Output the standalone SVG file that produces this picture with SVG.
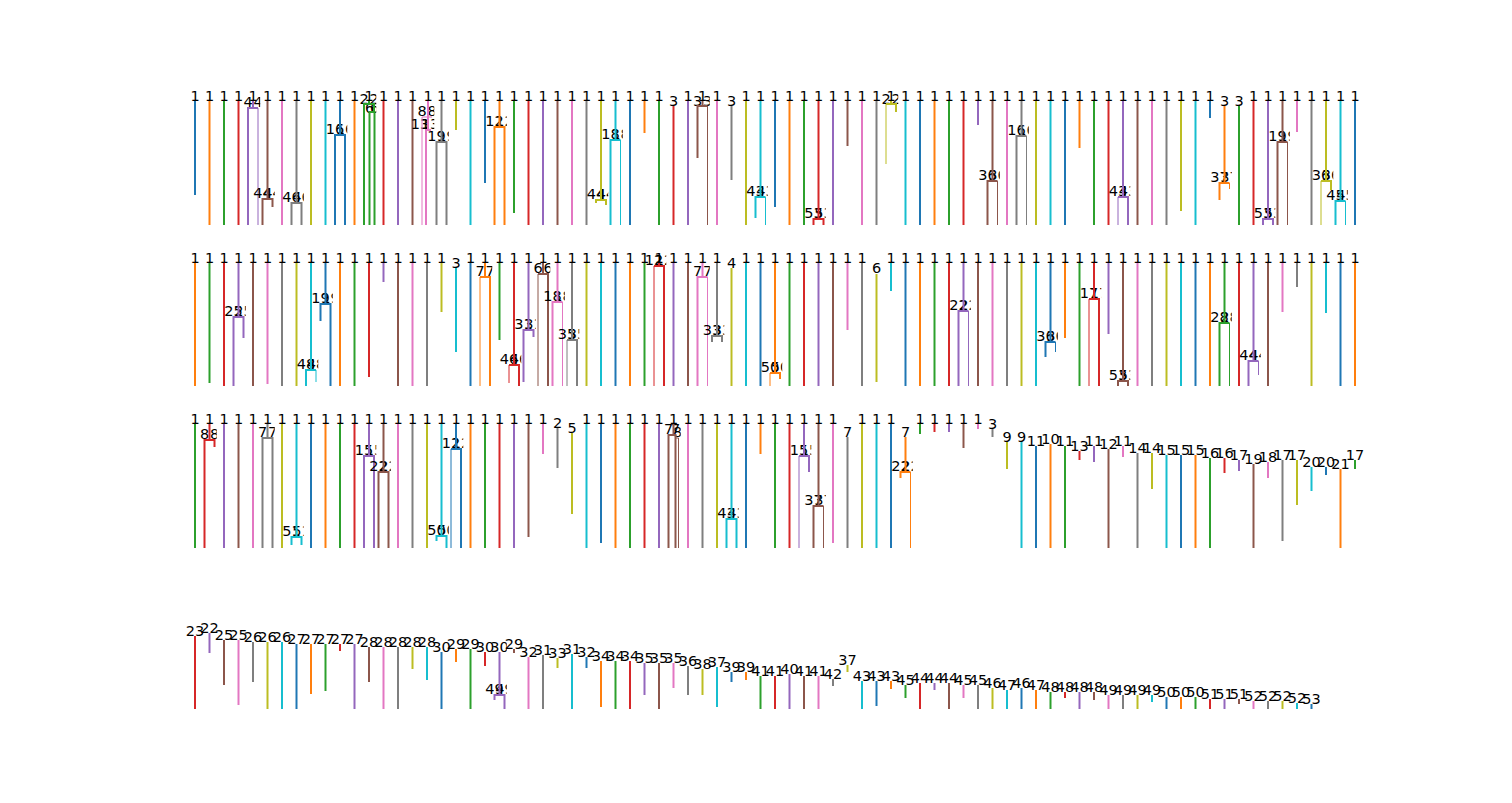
<svg xmlns="http://www.w3.org/2000/svg" width="1512" height="803" viewBox="0 0 1512 803">
<style>
path{fill:none;stroke-width:2}
.t{stroke-width:1}
text{font-family:"DejaVu Sans",sans-serif;font-size:14.5px;text-anchor:middle;fill:#000;stroke:none}
.bg{fill:#fff;stroke:none}
.c0{stroke:#1f77b4}.c1{stroke:#ff7f0e}.c2{stroke:#2ca02c}.c3{stroke:#d62728}.c4{stroke:#9467bd}
.c5{stroke:#8c564b}.c6{stroke:#e377c2}.c7{stroke:#7f7f7f}.c8{stroke:#bcbd22}.c9{stroke:#17becf}
</style>
<rect width="1512" height="803" fill="#fff"/>
<g id="row1">
<g id="r1c0" class="c0"><text x="195" y="101">1</text><path d="M195 101V195"/></g>
<g id="r1c1" class="c1"><text x="209.5" y="101">1</text><path d="M209.5 101V225"/></g>
<g id="r1c2" class="c2"><text x="224" y="101">1</text><path d="M224 101V225"/></g>
<g id="r1c3" class="c3"><text x="238.5" y="101">1</text><path d="M238.5 101V225"/></g>
<g id="r1c4" class="c4"><text x="253" y="101">1</text><text x="248" y="107">4</text><text x="258" y="107">4</text><path d="M253 101V108M248 225V108H258"/><path class="t" d="M258 108V225"/></g>
<g id="r1c5" class="c5"><rect class="bg" x="260.25" y="88" width="14.5" height="138"/><text x="267.5" y="101">1</text><text x="262.5" y="198">44</text><text x="272.5" y="198">44</text><path d="M267.5 101V199M262.5 225V199H272.5V207"/></g>
<g id="r1c6" class="c6"><rect class="bg" x="274.75" y="88" width="14.5" height="138"/><text x="282" y="101">1</text><path d="M282 101V225"/></g>
<g id="r1c7" class="c7"><text x="296.5" y="101">1</text><text x="291.5" y="202">46</text><text x="301.5" y="202">46</text><path d="M296.5 101V203M291.5 225V203H301.5V225"/></g>
<g id="r1c8" class="c8"><rect class="bg" x="303.75" y="88" width="14.5" height="138"/><text x="311" y="101">1</text><path d="M311 101V225"/></g>
<g id="r1c9" class="c9"><text x="325.5" y="101">1</text><path d="M325.5 101V225"/></g>
<g id="r1c10" class="c0"><text x="340" y="101">1</text><text x="335" y="134">16</text><text x="345" y="134">16</text><path d="M340 101V135M335 225V135H345V225"/></g>
<g id="r1c11" class="c1"><rect class="bg" x="347.25" y="88" width="14.5" height="138"/><text x="354.5" y="101">1</text><path d="M354.5 101V225"/></g>
<g id="r1c12" class="c2"><text x="369" y="101">1</text><text x="364" y="104">2</text><text x="374" y="104">2</text><text x="369.5" y="113">6</text><text x="374.5" y="113">6</text><path d="M369 101V104M364 225V104H374V112M369.5 225V112H374.5V225"/></g>
<g id="r1c13" class="c3"><rect class="bg" x="376.25" y="88" width="14.5" height="138"/><text x="383.5" y="101">1</text><path d="M383.5 101V225"/></g>
<g id="r1c14" class="c4"><text x="398" y="101">1</text><path d="M398 101V225"/></g>
<g id="r1c15" class="c5"><text x="412.5" y="101">1</text><path d="M412.5 101V225"/></g>
<g id="r1c16" class="c6"><text x="428" y="101">1</text><text x="422" y="116">8</text><text x="432" y="116">8</text><text x="420" y="129">13</text><text x="430" y="129">13</text><path d="M428 101V130M426 225V130H431"/><path class="t" d="M422 225V117H432"/></g>
<g id="r1c17" class="c7"><rect class="bg" x="434.25" y="88" width="14.5" height="138"/><text x="441.5" y="101">1</text><text x="436.5" y="141">19</text><text x="446.5" y="141">19</text><path d="M441.5 101V142M436.5 225V142H446.5V225"/></g>
<g id="r1c18" class="c8"><rect class="bg" x="448.75" y="88" width="14.5" height="138"/><text x="456" y="101">1</text><path d="M456 101V130"/></g>
<g id="r1c19" class="c9"><text x="470.5" y="101">1</text><path d="M470.5 101V225"/></g>
<g id="r1c20" class="c0"><text x="485" y="101">1</text><path d="M485 101V183"/></g>
<g id="r1c21" class="c1"><text x="499.5" y="101">1</text><text x="494.5" y="126">12</text><text x="504.5" y="126">12</text><path d="M499.5 101V127M494.5 225V127H504.5V225"/></g>
<g id="r1c22" class="c2"><rect class="bg" x="506.75" y="88" width="14.5" height="138"/><text x="514" y="101">1</text><path d="M514 101V213"/></g>
<g id="r1c23" class="c3"><text x="528.5" y="101">1</text><path d="M528.5 101V225"/></g>
<g id="r1c24" class="c4"><text x="543" y="101">1</text><path d="M543 101V225"/></g>
<g id="r1c25" class="c5"><text x="557.5" y="101">1</text><path d="M557.5 101V225"/></g>
<g id="r1c26" class="c6"><text x="572" y="101">1</text><path d="M572 101V225"/></g>
<g id="r1c27" class="c7"><text x="586.5" y="101">1</text><path d="M586.5 101V225"/></g>
<g id="r1c28" class="c8"><text x="601" y="101">1</text><text x="596" y="199">44</text><text x="606" y="199">44</text><path d="M601 101V200M596 203V200H606V205"/></g>
<g id="r1c29" class="c9"><rect class="bg" x="608.25" y="88" width="14.5" height="138"/><text x="615.5" y="101">1</text><text x="610.5" y="139">18</text><text x="620.5" y="139">18</text><path d="M615.5 101V140M610.5 225V140H620.5"/><path class="t" d="M620.5 140V225"/></g>
<g id="r1c30" class="c0"><rect class="bg" x="622.75" y="88" width="14.5" height="138"/><text x="630" y="101">1</text><path d="M630 101V225"/></g>
<g id="r1c31" class="c1"><text x="644.5" y="101">1</text><path d="M644.5 101V133"/></g>
<g id="r1c32" class="c2"><text x="659" y="101">1</text><path d="M659 101V225"/></g>
<g id="r1c33" class="c3"><text x="673.5" y="106">3</text><path d="M673.5 106V225"/></g>
<g id="r1c34" class="c4"><text x="688" y="101">1</text><path d="M688 101V225"/></g>
<g id="r1c35" class="c5"><text x="702.5" y="101">1</text><text x="697.5" y="106">3</text><text x="707.5" y="106">3</text><path d="M702.5 101V106M697.5 158V106H707.5"/><path class="t" d="M707.5 106V225"/></g>
<g id="r1c36" class="c6"><rect class="bg" x="709.75" y="88" width="14.5" height="138"/><text x="717" y="101">1</text><path d="M717 101V225"/></g>
<g id="r1c37" class="c7"><text x="731.5" y="106">3</text><path d="M731.5 106V180"/></g>
<g id="r1c38" class="c8"><text x="746" y="101">1</text><path d="M746 101V225"/></g>
<g id="r1c39" class="c9"><text x="760.5" y="101">1</text><text x="755.5" y="196">43</text><text x="765.5" y="196">43</text><path d="M760.5 101V197M755.5 218V197H765.5"/><path class="t" d="M765.5 197V225"/></g>
<g id="r1c40" class="c0"><rect class="bg" x="767.75" y="88" width="14.5" height="138"/><text x="775" y="101">1</text><path d="M775 101V207"/></g>
<g id="r1c41" class="c1"><text x="789.5" y="101">1</text><path d="M789.5 101V225"/></g>
<g id="r1c42" class="c2"><text x="804" y="101">1</text><path d="M804 101V225"/></g>
<g id="r1c43" class="c3"><text x="818.5" y="101">1</text><text x="813.5" y="218">53</text><text x="823.5" y="218">53</text><path d="M818.5 101V219M813.5 225V219H823.5V225"/></g>
<g id="r1c44" class="c4"><rect class="bg" x="825.75" y="88" width="14.5" height="138"/><text x="833" y="101">1</text><path d="M833 101V225"/></g>
<g id="r1c45" class="c5"><text x="847.5" y="101">1</text><path d="M847.5 101V146"/></g>
<g id="r1c46" class="c6"><text x="862" y="101">1</text><path d="M862 101V225"/></g>
<g id="r1c47" class="c7"><text x="876.5" y="101">1</text><path d="M876.5 101V225"/></g>
<g id="r1c48" class="c8"><text x="891" y="101">1</text><text x="886" y="104">2</text><text x="896" y="104">2</text><path d="M891 101V104M886 104H896V112"/><path class="t" d="M886 104V164"/></g>
<g id="r1c49" class="c9"><rect class="bg" x="898.25" y="88" width="14.5" height="138"/><text x="905.5" y="101">1</text><path d="M905.5 101V225"/></g>
<g id="r1c50" class="c0"><text x="920" y="101">1</text><path d="M920 101V225"/></g>
<g id="r1c51" class="c1"><text x="934.5" y="101">1</text><path d="M934.5 101V225"/></g>
<g id="r1c52" class="c2"><text x="949" y="101">1</text><path d="M949 101V225"/></g>
<g id="r1c53" class="c3"><text x="963.5" y="101">1</text><path d="M963.5 101V225"/></g>
<g id="r1c54" class="c4"><text x="978" y="101">1</text><path d="M978 101V125"/></g>
<g id="r1c55" class="c5"><text x="992.5" y="101">1</text><text x="987.5" y="180">36</text><text x="997.5" y="180">36</text><path d="M992.5 101V181M987.5 225V181H997.5"/><path class="t" d="M997.5 181V225"/></g>
<g id="r1c56" class="c6"><rect class="bg" x="999.75" y="88" width="14.5" height="138"/><text x="1007" y="101">1</text><path d="M1007 101V225"/></g>
<g id="r1c57" class="c7"><text x="1021.5" y="101">1</text><text x="1016.5" y="135">16</text><text x="1026.5" y="135">16</text><path d="M1021.5 101V136M1016.5 225V136H1026.5"/><path class="t" d="M1026.5 136V225"/></g>
<g id="r1c58" class="c8"><rect class="bg" x="1028.75" y="88" width="14.5" height="138"/><text x="1036" y="101">1</text><path d="M1036 101V225"/></g>
<g id="r1c59" class="c9"><text x="1050.5" y="101">1</text><path d="M1050.5 101V225"/></g>
<g id="r1c60" class="c0"><text x="1065" y="101">1</text><path d="M1065 101V225"/></g>
<g id="r1c61" class="c1"><text x="1079.5" y="101">1</text><path d="M1079.5 101V148"/></g>
<g id="r1c62" class="c2"><text x="1094" y="101">1</text><path d="M1094 101V225"/></g>
<g id="r1c63" class="c3"><text x="1108.5" y="101">1</text><path d="M1108.5 101V225"/></g>
<g id="r1c64" class="c4"><text x="1123" y="101">1</text><text x="1118" y="196">43</text><text x="1128" y="196">43</text><path d="M1123 101V197H1128V225M1118 197H1123"/><path class="t" d="M1118 197V225"/></g>
<g id="r1c65" class="c5"><rect class="bg" x="1130.25" y="88" width="14.5" height="138"/><text x="1137.5" y="101">1</text><path d="M1137.5 101V225"/></g>
<g id="r1c66" class="c6"><text x="1152" y="101">1</text><path d="M1152 101V225"/></g>
<g id="r1c67" class="c7"><text x="1166.5" y="101">1</text><path d="M1166.5 101V225"/></g>
<g id="r1c68" class="c8"><text x="1181" y="101">1</text><path d="M1181 101V211"/></g>
<g id="r1c69" class="c9"><text x="1195.5" y="101">1</text><path d="M1195.5 101V225"/></g>
<g id="r1c70" class="c0"><text x="1210" y="101">1</text><path d="M1210 101V118"/></g>
<g id="r1c71" class="c1"><text x="1224.5" y="106">3</text><text x="1219.5" y="182">37</text><text x="1229.5" y="182">37</text><path d="M1224.5 106V183M1219.5 200V183H1229.5"/><path class="t" d="M1229.5 183V189"/></g>
<g id="r1c72" class="c2"><rect class="bg" x="1231.75" y="88" width="14.5" height="138"/><text x="1239" y="106">3</text><path d="M1239 106V225"/></g>
<g id="r1c73" class="c3"><text x="1253.5" y="101">1</text><path d="M1253.5 101V225"/></g>
<g id="r1c74" class="c4"><text x="1268" y="101">1</text><text x="1263" y="218">53</text><text x="1273" y="218">53</text><path d="M1268 101V219M1263 225V219H1273V225"/></g>
<g id="r1c75" class="c5"><rect class="bg" x="1275.25" y="88" width="14.5" height="138"/><text x="1282.5" y="101">1</text><text x="1277.5" y="141">19</text><text x="1287.5" y="141">19</text><path d="M1282.5 101V142M1277.5 225V142H1287.5"/><path class="t" d="M1287.5 142V225"/></g>
<g id="r1c76" class="c6"><rect class="bg" x="1289.75" y="88" width="14.5" height="138"/><text x="1297" y="101">1</text><path d="M1297 101V132"/></g>
<g id="r1c77" class="c7"><text x="1311.5" y="101">1</text><path d="M1311.5 101V225"/></g>
<g id="r1c78" class="c8"><text x="1326" y="101">1</text><text x="1321" y="180">36</text><text x="1331" y="180">36</text><path d="M1326 101V181H1331V190M1321 181H1326"/><path class="t" d="M1321 181V225"/></g>
<g id="r1c79" class="c9"><rect class="bg" x="1333.25" y="88" width="14.5" height="138"/><text x="1340.5" y="101">1</text><text x="1335.5" y="200">45</text><text x="1345.5" y="200">45</text><path d="M1340.5 101V201M1335.5 225V201H1345.5"/><path class="t" d="M1345.5 201V225"/></g>
<g id="r1c80" class="c0"><rect class="bg" x="1347.75" y="88" width="14.5" height="138"/><text x="1355" y="101">1</text><path d="M1355 101V225"/></g>
</g>
<g id="row2">
<g id="r2c0" class="c1"><text x="195" y="263">1</text><path d="M195 263V386"/></g>
<g id="r2c1" class="c2"><text x="209.5" y="263">1</text><path d="M209.5 263V383"/></g>
<g id="r2c2" class="c3"><text x="224" y="263">1</text><path d="M224 263V386"/></g>
<g id="r2c3" class="c4"><text x="238.5" y="263">1</text><text x="233.5" y="316">25</text><text x="243.5" y="316">25</text><path d="M238.5 263V317M233.5 386V317H243.5V338"/></g>
<g id="r2c4" class="c5"><rect class="bg" x="245.75" y="250" width="14.5" height="137"/><text x="253" y="263">1</text><path d="M253 263V386"/></g>
<g id="r2c5" class="c6"><text x="267.5" y="263">1</text><path d="M267.5 263V384"/></g>
<g id="r2c6" class="c7"><text x="282" y="263">1</text><path d="M282 263V386"/></g>
<g id="r2c7" class="c8"><text x="296.5" y="263">1</text><path d="M296.5 263V386"/></g>
<g id="r2c8" class="c9"><text x="311" y="263">1</text><text x="306" y="369">48</text><text x="316" y="369">48</text><path d="M311 263V370M306 386V370H316"/><path class="t" d="M316 370V382"/></g>
<g id="r2c9" class="c0"><rect class="bg" x="318.25" y="250" width="14.5" height="137"/><text x="325.5" y="263">1</text><text x="320.5" y="303">19</text><text x="330.5" y="303">19</text><path d="M325.5 263V304M320.5 321V304H330.5V386"/></g>
<g id="r2c10" class="c1"><rect class="bg" x="332.75" y="250" width="14.5" height="137"/><text x="340" y="263">1</text><path d="M340 263V386"/></g>
<g id="r2c11" class="c2"><text x="354.5" y="263">1</text><path d="M354.5 263V386"/></g>
<g id="r2c12" class="c3"><text x="369" y="263">1</text><path d="M369 263V377"/></g>
<g id="r2c13" class="c4"><text x="383.5" y="263">1</text><path d="M383.5 263V282"/></g>
<g id="r2c14" class="c5"><text x="398" y="263">1</text><path d="M398 263V386"/></g>
<g id="r2c15" class="c6"><text x="412.5" y="263">1</text><path d="M412.5 263V386"/></g>
<g id="r2c16" class="c7"><text x="427" y="263">1</text><path d="M427 263V386"/></g>
<g id="r2c17" class="c8"><text x="441.5" y="263">1</text><path d="M441.5 263V312"/></g>
<g id="r2c18" class="c9"><text x="456" y="268">3</text><path d="M456 268V352"/></g>
<g id="r2c19" class="c0"><text x="470.5" y="263">1</text><path d="M470.5 263V386"/></g>
<g id="r2c20" class="c1"><text x="485" y="263">1</text><text x="480" y="276">7</text><text x="490" y="276">7</text><path d="M485 263V277H490V386M480 277H485"/><path class="t" d="M480 277V386"/></g>
<g id="r2c21" class="c2"><rect class="bg" x="492.25" y="250" width="14.5" height="137"/><text x="499.5" y="263">1</text><path d="M499.5 263V340"/></g>
<g id="r2c22" class="c3"><text x="514" y="263">1</text><text x="509" y="364">46</text><text x="519" y="364">46</text><path d="M514 263V365H519V386M509 365H514"/><path class="t" d="M509 365V383"/></g>
<g id="r2c23" class="c4"><rect class="bg" x="521.25" y="250" width="14.5" height="137"/><text x="528.5" y="263">1</text><text x="523.5" y="329">31</text><text x="533.5" y="329">31</text><path d="M528.5 263V330M523.5 382V330H533.5V337"/></g>
<g id="r2c24" class="c5"><rect class="bg" x="535.75" y="250" width="14.5" height="137"/><text x="543" y="263">1</text><text x="538" y="273">6</text><text x="548" y="273">6</text><path d="M543 263V274H548V386M538 274H543"/><path class="t" d="M538 274V386"/></g>
<g id="r2c25" class="c6"><rect class="bg" x="550.25" y="250" width="14.5" height="137"/><text x="557.5" y="263">1</text><text x="552.5" y="301">18</text><text x="562.5" y="301">18</text><path d="M557.5 263V302M552.5 386V302H562.5"/><path class="t" d="M562.5 302V386"/></g>
<g id="r2c26" class="c7"><rect class="bg" x="564.75" y="250" width="14.5" height="137"/><text x="572" y="263">1</text><text x="567" y="339">35</text><text x="577" y="339">35</text><path d="M572 263V340H577V386M567 340H572"/><path class="t" d="M567 340V386"/></g>
<g id="r2c27" class="c8"><rect class="bg" x="579.25" y="250" width="14.5" height="137"/><text x="586.5" y="263">1</text><path d="M586.5 263V386"/></g>
<g id="r2c28" class="c9"><text x="601" y="263">1</text><path d="M601 263V386"/></g>
<g id="r2c29" class="c0"><text x="615.5" y="263">1</text><path d="M615.5 263V386"/></g>
<g id="r2c30" class="c1"><text x="630" y="263">1</text><path d="M630 263V386"/></g>
<g id="r2c31" class="c2"><text x="644.5" y="263">1</text><path d="M644.5 263V386"/></g>
<g id="r2c32" class="c3"><text x="659" y="263">1</text><text x="654" y="265">12</text><text x="664" y="265">12</text><path d="M659 263V266H664V386M654 266H659"/><path class="t" d="M654 266V386"/></g>
<g id="r2c33" class="c4"><rect class="bg" x="666.25" y="250" width="14.5" height="137"/><text x="673.5" y="263">1</text><path d="M673.5 263V386"/></g>
<g id="r2c34" class="c5"><text x="688" y="263">1</text><path d="M688 263V386"/></g>
<g id="r2c35" class="c6"><text x="702.5" y="263">1</text><text x="697.5" y="276">7</text><text x="707.5" y="276">7</text><path d="M702.5 263V277M697.5 386V277H707.5"/><path class="t" d="M707.5 277V386"/></g>
<g id="r2c36" class="c7"><rect class="bg" x="709.75" y="250" width="14.5" height="137"/><text x="717" y="263">1</text><text x="712" y="335">33</text><text x="722" y="335">33</text><path d="M717 263V336M712 342V336H722V342"/></g>
<g id="r2c37" class="c8"><rect class="bg" x="724.25" y="250" width="14.5" height="137"/><text x="731.5" y="268">4</text><path d="M731.5 268V386"/></g>
<g id="r2c38" class="c9"><text x="746" y="263">1</text><path d="M746 263V386"/></g>
<g id="r2c39" class="c0"><text x="760.5" y="263">1</text><path d="M760.5 263V386"/></g>
<g id="r2c40" class="c1"><text x="775" y="263">1</text><text x="770" y="372">50</text><text x="780" y="372">50</text><path d="M775 263V373H780V379M770 373H775"/><path class="t" d="M770 373V386"/></g>
<g id="r2c41" class="c2"><rect class="bg" x="782.25" y="250" width="14.5" height="137"/><text x="789.5" y="263">1</text><path d="M789.5 263V386"/></g>
<g id="r2c42" class="c3"><text x="804" y="263">1</text><path d="M804 263V386"/></g>
<g id="r2c43" class="c4"><text x="818.5" y="263">1</text><path d="M818.5 263V386"/></g>
<g id="r2c44" class="c5"><text x="833" y="263">1</text><path d="M833 263V386"/></g>
<g id="r2c45" class="c6"><text x="847.5" y="263">1</text><path d="M847.5 263V330"/></g>
<g id="r2c46" class="c7"><text x="862" y="263">1</text><path d="M862 263V386"/></g>
<g id="r2c47" class="c8"><text x="876.5" y="273">6</text><path d="M876.5 274V382"/></g>
<g id="r2c48" class="c9"><text x="891" y="263">1</text><path d="M891 263V291"/></g>
<g id="r2c49" class="c0"><text x="905.5" y="263">1</text><path d="M905.5 263V386"/></g>
<g id="r2c50" class="c1"><text x="920" y="263">1</text><path d="M920 263V386"/></g>
<g id="r2c51" class="c2"><text x="934.5" y="263">1</text><path d="M934.5 263V386"/></g>
<g id="r2c52" class="c3"><text x="949" y="263">1</text><path d="M949 263V386"/></g>
<g id="r2c53" class="c4"><text x="963.5" y="263">1</text><text x="958.5" y="310">22</text><text x="968.5" y="310">22</text><path d="M963.5 263V311M958.5 386V311H968.5"/><path class="t" d="M968.5 311V386"/></g>
<g id="r2c54" class="c5"><rect class="bg" x="970.75" y="250" width="14.5" height="137"/><text x="978" y="263">1</text><path d="M978 263V386"/></g>
<g id="r2c55" class="c6"><text x="992.5" y="263">1</text><path d="M992.5 263V386"/></g>
<g id="r2c56" class="c7"><text x="1007" y="263">1</text><path d="M1007 263V386"/></g>
<g id="r2c57" class="c8"><text x="1021.5" y="263">1</text><path d="M1021.5 263V386"/></g>
<g id="r2c58" class="c9"><text x="1036" y="263">1</text><path d="M1036 263V386"/></g>
<g id="r2c59" class="c0"><text x="1050.5" y="263">1</text><text x="1045.5" y="341">36</text><text x="1055.5" y="341">36</text><path d="M1050.5 263V342M1045.5 357V342H1055.5"/><path class="t" d="M1055.5 342V352"/></g>
<g id="r2c60" class="c1"><rect class="bg" x="1057.75" y="250" width="14.5" height="137"/><text x="1065" y="263">1</text><path d="M1065 263V338"/></g>
<g id="r2c61" class="c2"><text x="1079.5" y="263">1</text><path d="M1079.5 263V386"/></g>
<g id="r2c62" class="c3"><text x="1094" y="263">1</text><text x="1089" y="298">17</text><text x="1099" y="298">17</text><path d="M1094 263V299H1099V386M1089 299H1094"/><path class="t" d="M1089 299V386"/></g>
<g id="r2c63" class="c4"><rect class="bg" x="1101.25" y="250" width="14.5" height="137"/><text x="1108.5" y="263">1</text><path d="M1108.5 263V334"/></g>
<g id="r2c64" class="c5"><text x="1123" y="263">1</text><text x="1118" y="380">53</text><text x="1128" y="380">53</text><path d="M1123 263V381M1118 386V381H1128V386"/></g>
<g id="r2c65" class="c6"><rect class="bg" x="1130.25" y="250" width="14.5" height="137"/><text x="1137.5" y="263">1</text><path d="M1137.5 263V386"/></g>
<g id="r2c66" class="c7"><text x="1152" y="263">1</text><path d="M1152 263V386"/></g>
<g id="r2c67" class="c8"><text x="1166.5" y="263">1</text><path d="M1166.5 263V386"/></g>
<g id="r2c68" class="c9"><text x="1181" y="263">1</text><path d="M1181 263V386"/></g>
<g id="r2c69" class="c0"><text x="1195.5" y="263">1</text><path d="M1195.5 263V386"/></g>
<g id="r2c70" class="c1"><text x="1210" y="263">1</text><path d="M1210 263V386"/></g>
<g id="r2c71" class="c2"><text x="1224.5" y="263">1</text><text x="1219.5" y="322">28</text><text x="1229.5" y="322">28</text><path d="M1224.5 263V323M1219.5 386V323H1229.5"/><path class="t" d="M1229.5 323V386"/></g>
<g id="r2c72" class="c3"><rect class="bg" x="1231.75" y="250" width="14.5" height="137"/><text x="1239" y="263">1</text><path d="M1239 263V386"/></g>
<g id="r2c73" class="c4"><text x="1253.5" y="263">1</text><text x="1248.5" y="360">44</text><text x="1258.5" y="360">44</text><path d="M1253.5 263V361M1248.5 386V361H1258.5"/><path class="t" d="M1258.5 361V375"/></g>
<g id="r2c74" class="c5"><rect class="bg" x="1260.75" y="250" width="14.5" height="137"/><text x="1268" y="263">1</text><path d="M1268 263V386"/></g>
<g id="r2c75" class="c6"><text x="1282.5" y="263">1</text><path d="M1282.5 263V312"/></g>
<g id="r2c76" class="c7"><text x="1297" y="263">1</text><path d="M1297 263V287"/></g>
<g id="r2c77" class="c8"><text x="1311.5" y="263">1</text><path d="M1311.5 263V386"/></g>
<g id="r2c78" class="c9"><text x="1326" y="263">1</text><path d="M1326 263V313"/></g>
<g id="r2c79" class="c0"><text x="1340.5" y="263">1</text><path d="M1340.5 263V386"/></g>
<g id="r2c80" class="c1"><text x="1355" y="263">1</text><path d="M1355 263V386"/></g>
</g>
<g id="row3">
<g id="r3c0" class="c2"><text x="195" y="424">1</text><path d="M195 424V548"/></g>
<g id="r3c1" class="c3"><text x="209.5" y="424">1</text><text x="204.5" y="439">8</text><text x="214.5" y="439">8</text><path d="M209.5 424V440M204.5 548V440H214.5V447"/></g>
<g id="r3c2" class="c4"><rect class="bg" x="216.75" y="410" width="14.5" height="139"/><text x="224" y="424">1</text><path d="M224 424V548"/></g>
<g id="r3c3" class="c5"><text x="238.5" y="424">1</text><path d="M238.5 424V548"/></g>
<g id="r3c4" class="c6"><text x="253" y="424">1</text><path d="M253 424V548"/></g>
<g id="r3c5" class="c7"><text x="267.5" y="424">1</text><text x="262.5" y="437">7</text><text x="272.5" y="437">7</text><path d="M267.5 424V438M262.5 548V438H272.5V548"/></g>
<g id="r3c6" class="c8"><rect class="bg" x="274.75" y="410" width="14.5" height="139"/><text x="282" y="424">1</text><path d="M282 424V548"/></g>
<g id="r3c7" class="c9"><text x="296.5" y="424">1</text><text x="291.5" y="536">51</text><text x="301.5" y="536">51</text><path d="M296.5 424V537M291.5 545V537H301.5V545"/></g>
<g id="r3c8" class="c0"><rect class="bg" x="303.75" y="410" width="14.5" height="139"/><text x="311" y="424">1</text><path d="M311 424V548"/></g>
<g id="r3c9" class="c1"><text x="325.5" y="424">1</text><path d="M325.5 424V548"/></g>
<g id="r3c10" class="c2"><text x="340" y="424">1</text><path d="M340 424V548"/></g>
<g id="r3c11" class="c3"><text x="354.5" y="424">1</text><path d="M354.5 424V548"/></g>
<g id="r3c12" class="c4"><text x="369" y="424">1</text><text x="364" y="455">15</text><text x="374" y="455">15</text><path d="M369 424V456M364 548V456H374V548"/></g>
<g id="r3c13" class="c5"><rect class="bg" x="376.25" y="410" width="14.5" height="139"/><text x="383.5" y="424">1</text><text x="378.5" y="471">22</text><text x="388.5" y="471">22</text><path d="M383.5 424V472M378.5 548V472H388.5V548"/></g>
<g id="r3c14" class="c6"><rect class="bg" x="390.75" y="410" width="14.5" height="139"/><text x="398" y="424">1</text><path d="M398 424V548"/></g>
<g id="r3c15" class="c7"><text x="412.5" y="424">1</text><path d="M412.5 424V548"/></g>
<g id="r3c16" class="c8"><text x="427" y="424">1</text><path d="M427 424V548"/></g>
<g id="r3c17" class="c9"><text x="441.5" y="424">1</text><text x="436.5" y="535">50</text><text x="446.5" y="535">50</text><path d="M441.5 424V536M436.5 541V536H446.5V548"/></g>
<g id="r3c18" class="c0"><rect class="bg" x="448.75" y="410" width="14.5" height="139"/><text x="456" y="424">1</text><text x="451" y="448">12</text><text x="461" y="448">12</text><path d="M456 424V449H461V548M451 449H456"/><path class="t" d="M451 449V548"/></g>
<g id="r3c19" class="c1"><rect class="bg" x="463.25" y="410" width="14.5" height="139"/><text x="470.5" y="424">1</text><path d="M470.5 424V548"/></g>
<g id="r3c20" class="c2"><text x="485" y="424">1</text><path d="M485 424V548"/></g>
<g id="r3c21" class="c3"><text x="499.5" y="424">1</text><path d="M499.5 424V548"/></g>
<g id="r3c22" class="c4"><text x="514" y="424">1</text><path d="M514 424V548"/></g>
<g id="r3c23" class="c5"><text x="528.5" y="424">1</text><path d="M528.5 424V537"/></g>
<g id="r3c24" class="c6"><text x="543" y="424">1</text><path d="M543 424V454"/></g>
<g id="r3c25" class="c7"><text x="557.5" y="428">2</text><path d="M557.5 428V468"/></g>
<g id="r3c26" class="c8"><text x="572" y="433">5</text><path d="M572 433V514"/></g>
<g id="r3c27" class="c9"><text x="586.5" y="424">1</text><path d="M586.5 424V548"/></g>
<g id="r3c28" class="c0"><text x="601" y="424">1</text><path d="M601 424V543"/></g>
<g id="r3c29" class="c1"><text x="615.5" y="424">1</text><path d="M615.5 424V548"/></g>
<g id="r3c30" class="c2"><text x="630" y="424">1</text><path d="M630 424V548"/></g>
<g id="r3c31" class="c3"><text x="644.5" y="424">1</text><path d="M644.5 424V548"/></g>
<g id="r3c32" class="c4"><text x="659" y="424">1</text><path d="M659 424V548"/></g>
<g id="r3c33" class="c5"><text x="673.5" y="424">1</text><text x="668.5" y="434">7</text><text x="675.5" y="434">7</text><text x="677.5" y="437">8</text><path d="M673.5 424V435M668.5 548V435H675.5V548"/><path class="t" d="M675.5 438H678.5V548"/></g>
<g id="r3c34" class="c6"><rect class="bg" x="680.75" y="410" width="14.5" height="139"/><text x="688" y="424">1</text><path d="M688 424V548"/></g>
<g id="r3c35" class="c7"><text x="702.5" y="424">1</text><path d="M702.5 424V548"/></g>
<g id="r3c36" class="c8"><text x="717" y="424">1</text><path d="M717 424V548"/></g>
<g id="r3c37" class="c9"><text x="731.5" y="424">1</text><text x="726.5" y="518">43</text><text x="736.5" y="518">43</text><path d="M731.5 424V519M726.5 548V519H736.5V548"/></g>
<g id="r3c38" class="c0"><rect class="bg" x="738.75" y="410" width="14.5" height="139"/><text x="746" y="424">1</text><path d="M746 424V548"/></g>
<g id="r3c39" class="c1"><text x="760.5" y="424">1</text><path d="M760.5 424V454"/></g>
<g id="r3c40" class="c2"><text x="775" y="424">1</text><path d="M775 424V548"/></g>
<g id="r3c41" class="c3"><text x="789.5" y="424">1</text><path d="M789.5 424V548"/></g>
<g id="r3c42" class="c4"><text x="804" y="424">1</text><text x="799" y="455">15</text><text x="809" y="455">15</text><path d="M804 424V456H809V472M799 456H804"/><path class="t" d="M799 456V548"/></g>
<g id="r3c43" class="c5"><rect class="bg" x="811.25" y="410" width="14.5" height="139"/><text x="818.5" y="424">1</text><text x="813.5" y="505">37</text><text x="823.5" y="505">37</text><path d="M818.5 424V506M813.5 548V506H823.5"/><path class="t" d="M823.5 506V548"/></g>
<g id="r3c44" class="c6"><rect class="bg" x="825.75" y="410" width="14.5" height="139"/><text x="833" y="424">1</text><path d="M833 424V543"/></g>
<g id="r3c45" class="c7"><text x="847.5" y="437">7</text><path d="M847.5 437V548"/></g>
<g id="r3c46" class="c8"><text x="862" y="424">1</text><path d="M862 424V548"/></g>
<g id="r3c47" class="c9"><text x="876.5" y="424">1</text><path d="M876.5 424V548"/></g>
<g id="r3c48" class="c0"><text x="891" y="424">1</text><path d="M891 424V548"/></g>
<g id="r3c49" class="c1"><text x="905.5" y="437">7</text><text x="900.5" y="471">22</text><text x="910.5" y="471">22</text><path d="M905.5 437V472M900.5 478V472H910.5"/><path class="t" d="M910.5 472V548"/></g>
<g id="r3c50" class="c2"><rect class="bg" x="912.75" y="410" width="14.5" height="139"/><text x="920" y="424">1</text><path d="M920 424V434"/></g>
<g id="r3c51" class="c3"><text x="934.5" y="424">1</text><path d="M934.5 424V432"/></g>
<g id="r3c52" class="c4"><text x="949" y="424">1</text><path d="M949 424V432"/></g>
<g id="r3c53" class="c5"><text x="963.5" y="424">1</text><path d="M963.5 424V448"/></g>
<g id="r3c54" class="c6"><text x="978" y="424">1</text><path d="M978 424V429"/></g>
<g id="r3c55" class="c7"><text x="992.5" y="429">3</text><path d="M992.5 429V437"/></g>
<g id="r3c56" class="c8"><text x="1007" y="442">9</text><path d="M1007 442V469"/></g>
<g id="r3c57" class="c9"><text x="1021.5" y="442">9</text><path d="M1021.5 442V548"/></g>
<g id="r3c58" class="c0"><text x="1036" y="446">11</text><path d="M1036 446V548"/></g>
<g id="r3c59" class="c1"><text x="1050.5" y="444">10</text><path d="M1050.5 444V548"/></g>
<g id="r3c60" class="c2"><text x="1065" y="446">11</text><path d="M1065 446V548"/></g>
<g id="r3c61" class="c3"><text x="1079.5" y="451">13</text><path d="M1079.5 451V460"/></g>
<g id="r3c62" class="c4"><text x="1094" y="446">11</text><path d="M1094 446V462"/></g>
<g id="r3c63" class="c5"><text x="1108.5" y="449">12</text><path d="M1108.5 449V548"/></g>
<g id="r3c64" class="c6"><text x="1123" y="446">11</text><path d="M1123 446V457"/></g>
<g id="r3c65" class="c7"><text x="1137.5" y="453">14</text><path d="M1137.5 453V548"/></g>
<g id="r3c66" class="c8"><text x="1152" y="453">14</text><path d="M1152 453V489"/></g>
<g id="r3c67" class="c9"><text x="1166.5" y="455">15</text><path d="M1166.5 455V548"/></g>
<g id="r3c68" class="c0"><text x="1181" y="455">15</text><path d="M1181 455V548"/></g>
<g id="r3c69" class="c1"><text x="1195.5" y="455">15</text><path d="M1195.5 455V548"/></g>
<g id="r3c70" class="c2"><text x="1210" y="458">16</text><path d="M1210 458V548"/></g>
<g id="r3c71" class="c3"><text x="1224.5" y="458">16</text><path d="M1224.5 458V473"/></g>
<g id="r3c72" class="c4"><text x="1239" y="460">17</text><path d="M1239 460V471"/></g>
<g id="r3c73" class="c5"><text x="1253.5" y="464">19</text><path d="M1253.5 464V548"/></g>
<g id="r3c74" class="c6"><text x="1268" y="462">18</text><path d="M1268 462V478"/></g>
<g id="r3c75" class="c7"><text x="1282.5" y="460">17</text><path d="M1282.5 460V541"/></g>
<g id="r3c76" class="c8"><text x="1297" y="460">17</text><path d="M1297 460V505"/></g>
<g id="r3c77" class="c9"><text x="1311.5" y="467">20</text><path d="M1311.5 467V491"/></g>
<g id="r3c78" class="c0"><text x="1326" y="467">20</text><path d="M1326 467V475"/></g>
<g id="r3c79" class="c1"><text x="1340.5" y="469">21</text><path d="M1340.5 469V548"/></g>
<g id="r3c80" class="c2"><text x="1355" y="460">17</text><path d="M1355 460V469"/></g>
</g>
<g id="row4">
<g id="r4c0" class="c3"><text x="195" y="636">23</text><path d="M195 636V709"/></g>
<g id="r4c1" class="c4"><text x="209.5" y="633">22</text><path d="M209.5 633V653"/></g>
<g id="r4c2" class="c5"><text x="224" y="640">25</text><path d="M224 640V685"/></g>
<g id="r4c3" class="c6"><text x="238.5" y="640">25</text><path d="M238.5 640V705"/></g>
<g id="r4c4" class="c7"><text x="253" y="642">26</text><path d="M253 642V682"/></g>
<g id="r4c5" class="c8"><text x="267.5" y="642">26</text><path d="M267.5 642V709"/></g>
<g id="r4c6" class="c9"><text x="282" y="642">26</text><path d="M282 642V709"/></g>
<g id="r4c7" class="c0"><text x="296.5" y="644">27</text><path d="M296.5 644V709"/></g>
<g id="r4c8" class="c1"><text x="311" y="644">27</text><path d="M311 644V694"/></g>
<g id="r4c9" class="c2"><text x="325.5" y="644">27</text><path d="M325.5 644V691"/></g>
<g id="r4c10" class="c3"><text x="340" y="644">27</text><path d="M340 644V651"/></g>
<g id="r4c11" class="c4"><text x="354.5" y="644">27</text><path d="M354.5 644V709"/></g>
<g id="r4c12" class="c5"><text x="369" y="647">28</text><path d="M369 647V682"/></g>
<g id="r4c13" class="c6"><text x="383.5" y="647">28</text><path d="M383.5 647V709"/></g>
<g id="r4c14" class="c7"><text x="398" y="647">28</text><path d="M398 647V709"/></g>
<g id="r4c15" class="c8"><text x="412.5" y="647">28</text><path d="M412.5 647V669"/></g>
<g id="r4c16" class="c9"><text x="427" y="647">28</text><path d="M427 647V680"/></g>
<g id="r4c17" class="c0"><text x="441.5" y="652">30</text><path d="M441.5 652V709"/></g>
<g id="r4c18" class="c1"><text x="456" y="649">29</text><path d="M456 649V662"/></g>
<g id="r4c19" class="c2"><text x="470.5" y="649">29</text><path d="M470.5 649V709"/></g>
<g id="r4c20" class="c3"><text x="485" y="652">30</text><path d="M485 652V666"/></g>
<g id="r4c21" class="c4"><text x="499.5" y="652">30</text><text x="494.5" y="694">49</text><text x="504.5" y="694">49</text><path d="M499.5 652V695M494.5 700V695H504.5V709"/></g>
<g id="r4c22" class="c5"><rect class="bg" x="506.75" y="620" width="14.5" height="90"/><text x="514" y="649">29</text><path d="M514 649V653"/></g>
<g id="r4c23" class="c6"><text x="528.5" y="657">32</text><path d="M528.5 657V709"/></g>
<g id="r4c24" class="c7"><text x="543" y="655">31</text><path d="M543 655V709"/></g>
<g id="r4c25" class="c8"><text x="557.5" y="658">33</text><path d="M557.5 658V668"/></g>
<g id="r4c26" class="c9"><text x="572" y="654">31</text><path d="M572 654V709"/></g>
<g id="r4c27" class="c0"><text x="586.5" y="657">32</text><path d="M586.5 657V668"/></g>
<g id="r4c28" class="c1"><text x="601" y="661">34</text><path d="M601 661V707"/></g>
<g id="r4c29" class="c2"><text x="615.5" y="661">34</text><path d="M615.5 661V709"/></g>
<g id="r4c30" class="c3"><text x="630" y="661">34</text><path d="M630 661V709"/></g>
<g id="r4c31" class="c4"><text x="644.5" y="663">35</text><path d="M644.5 663V695"/></g>
<g id="r4c32" class="c5"><text x="659" y="663">35</text><path d="M659 663V709"/></g>
<g id="r4c33" class="c6"><text x="673.5" y="663">35</text><path d="M673.5 663V688"/></g>
<g id="r4c34" class="c7"><text x="688" y="666">36</text><path d="M688 666V695"/></g>
<g id="r4c35" class="c8"><text x="702.5" y="669">38</text><path d="M702.5 669V695"/></g>
<g id="r4c36" class="c9"><text x="717" y="667">37</text><path d="M717 667V707"/></g>
<g id="r4c37" class="c0"><text x="731.5" y="672">39</text><path d="M731.5 672V682"/></g>
<g id="r4c38" class="c1"><text x="746" y="672">39</text><path d="M746 672V680"/></g>
<g id="r4c39" class="c2"><text x="760.5" y="676">41</text><path d="M760.5 676V709"/></g>
<g id="r4c40" class="c3"><text x="775" y="676">41</text><path d="M775 676V709"/></g>
<g id="r4c41" class="c4"><text x="789.5" y="674">40</text><path d="M789.5 674V709"/></g>
<g id="r4c42" class="c5"><text x="804" y="676">41</text><path d="M804 676V709"/></g>
<g id="r4c43" class="c6"><text x="818.5" y="676">41</text><path d="M818.5 676V709"/></g>
<g id="r4c44" class="c7"><text x="833" y="679">42</text><path d="M833 679V686"/></g>
<g id="r4c45" class="c8"><text x="847.5" y="665">37</text><path d="M847.5 665V672"/></g>
<g id="r4c46" class="c9"><text x="862" y="681">43</text><path d="M862 681V709"/></g>
<g id="r4c47" class="c0"><text x="876.5" y="681">43</text><path d="M876.5 681V706"/></g>
<g id="r4c48" class="c1"><text x="891" y="681">43</text><path d="M891 681V689"/></g>
<g id="r4c49" class="c2"><text x="905.5" y="685">45</text><path d="M905.5 685V698"/></g>
<g id="r4c50" class="c3"><text x="920" y="683">44</text><path d="M920 683V709"/></g>
<g id="r4c51" class="c4"><text x="934.5" y="683">44</text><path d="M934.5 683V690"/></g>
<g id="r4c52" class="c5"><text x="949" y="683">44</text><path d="M949 683V709"/></g>
<g id="r4c53" class="c6"><text x="963.5" y="685">45</text><path d="M963.5 685V698"/></g>
<g id="r4c54" class="c7"><text x="978" y="685">45</text><path d="M978 685V709"/></g>
<g id="r4c55" class="c8"><text x="992.5" y="688">46</text><path d="M992.5 688V709"/></g>
<g id="r4c56" class="c9"><text x="1007" y="690">47</text><path d="M1007 690V709"/></g>
<g id="r4c57" class="c0"><text x="1021.5" y="688">46</text><path d="M1021.5 688V709"/></g>
<g id="r4c58" class="c1"><text x="1036" y="690">47</text><path d="M1036 690V709"/></g>
<g id="r4c59" class="c2"><text x="1050.5" y="692">48</text><path d="M1050.5 692V709"/></g>
<g id="r4c60" class="c3"><text x="1065" y="692">48</text><path d="M1065 692V698"/></g>
<g id="r4c61" class="c4"><text x="1079.5" y="692">48</text><path d="M1079.5 692V709"/></g>
<g id="r4c62" class="c5"><text x="1094" y="692">48</text><path d="M1094 692V700"/></g>
<g id="r4c63" class="c6"><text x="1108.5" y="695">49</text><path d="M1108.5 695V709"/></g>
<g id="r4c64" class="c7"><text x="1123" y="695">49</text><path d="M1123 695V709"/></g>
<g id="r4c65" class="c8"><text x="1137.5" y="695">49</text><path d="M1137.5 695V709"/></g>
<g id="r4c66" class="c9"><text x="1152" y="695">49</text><path d="M1152 695V702"/></g>
<g id="r4c67" class="c0"><text x="1166.5" y="697">50</text><path d="M1166.5 697V709"/></g>
<g id="r4c68" class="c1"><text x="1181" y="697">50</text><path d="M1181 697V709"/></g>
<g id="r4c69" class="c2"><text x="1195.5" y="697">50</text><path d="M1195.5 697V709"/></g>
<g id="r4c70" class="c3"><text x="1210" y="699">51</text><path d="M1210 699V709"/></g>
<g id="r4c71" class="c4"><text x="1224.5" y="699">51</text><path d="M1224.5 699V709"/></g>
<g id="r4c72" class="c5"><text x="1239" y="699">51</text><path d="M1239 699V704"/></g>
<g id="r4c73" class="c6"><text x="1253.5" y="701">52</text><path d="M1253.5 701V709"/></g>
<g id="r4c74" class="c7"><text x="1268" y="701">52</text><path d="M1268 701V709"/></g>
<g id="r4c75" class="c8"><text x="1282.5" y="701">52</text><path d="M1282.5 701V709"/></g>
<g id="r4c76" class="c9"><text x="1297" y="703">52</text><path d="M1297 703V709"/></g>
<g id="r4c77" class="c0"><text x="1311.5" y="704">53</text><path d="M1311.5 704V709"/></g>
</g>
</svg>
